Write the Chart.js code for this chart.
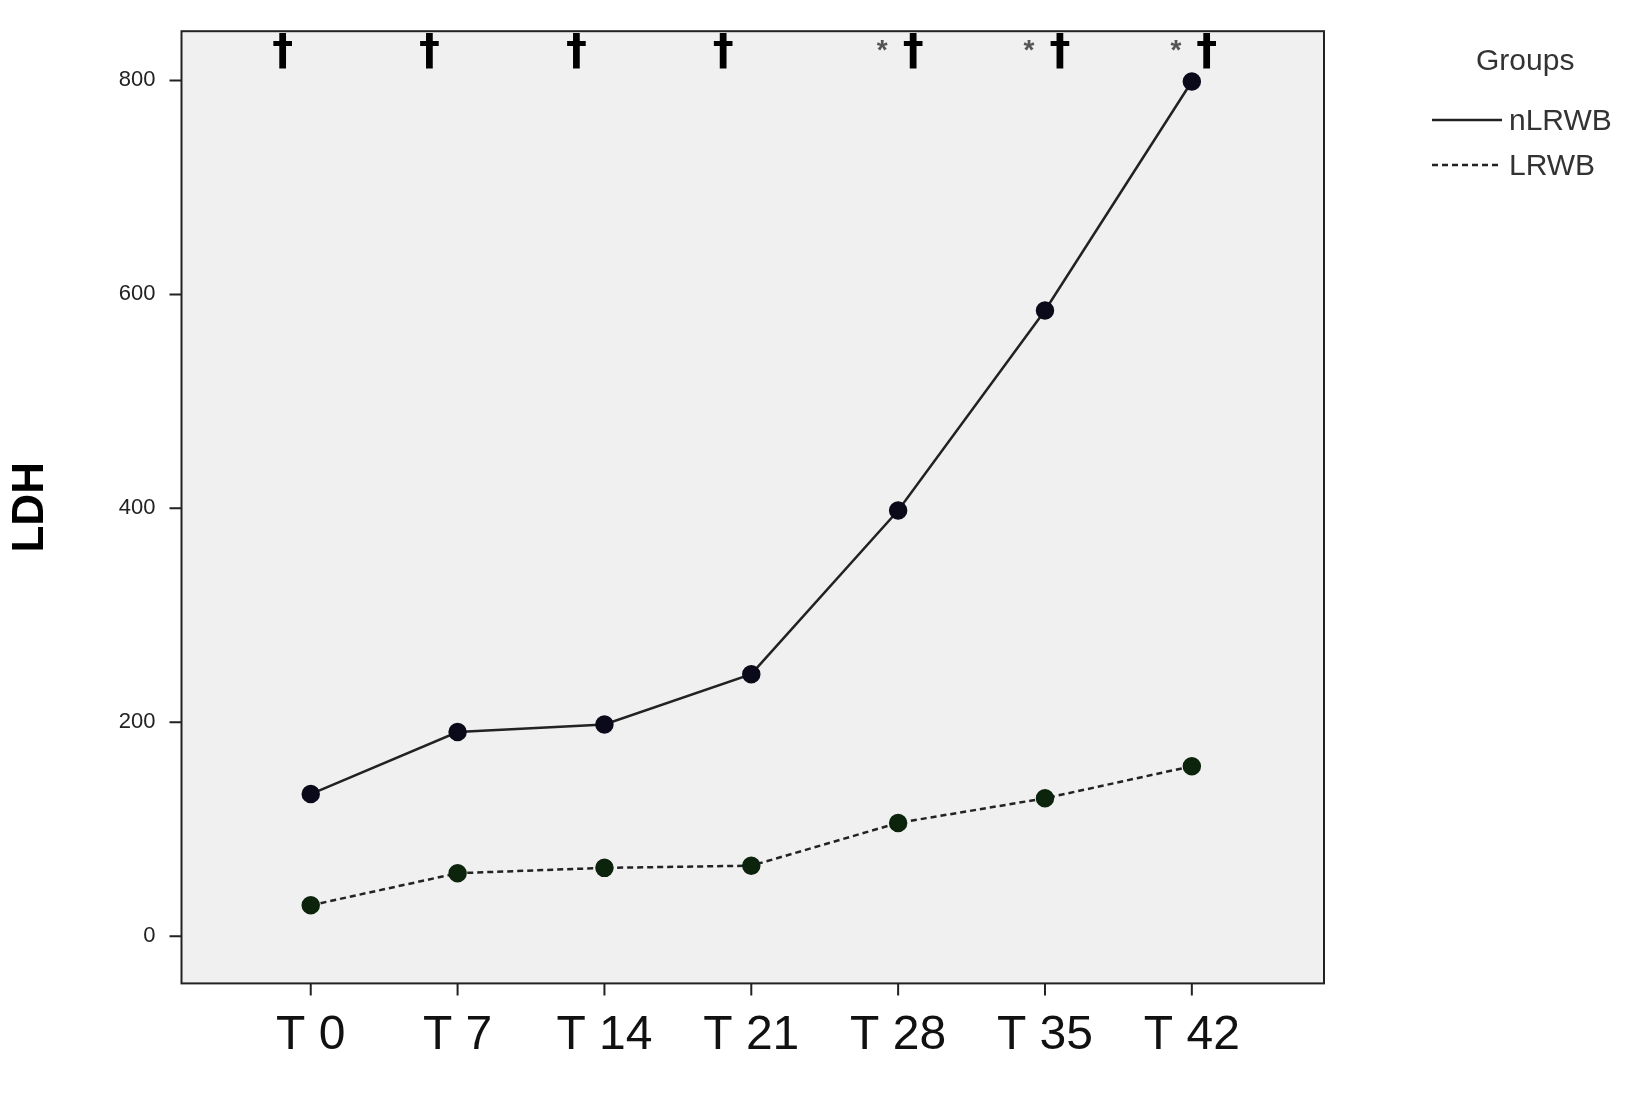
<!DOCTYPE html>
<html>
<head>
<meta charset="utf-8">
<script src="https://cdn.jsdelivr.net/npm/chart.js@4"></script>
<style>
  html, body { margin: 0; background: #fff; }
  #wrap { width: 1652px; height: 1095px; }
</style>
</head>
<body>
<div id="wrap"><canvas id="chart"></canvas></div>
<script>
const days = ['T 0', 'T 7', 'T 14', 'T 21', 'T 28', 'T 35', 'T 42'];
const nLRWB = [133, 191, 198, 245, 398, 585, 799];
const LRWB = [29, 59, 64, 66, 106, 129, 159];
const yTicks = [0, 200, 400, 600, 800];
const asterisks = [false, false, false, false, true, true, true];

const ctx = document.getElementById('chart').getContext('2d');

// grey plot background, frame and outward tick marks
const plotBg = {
  id: 'plotBg',
  beforeDraw(c) {
    const a = c.chartArea, g = c.ctx;
    g.save();
    g.fillStyle = '#f0f0f0';
    g.fillRect(a.left, a.top, a.width, a.height);
    g.restore();
  },
  afterDraw(c) {
    const a = c.chartArea, g = c.ctx;
    g.save();
    g.strokeStyle = '#222';
    g.lineWidth = 2;
    g.strokeRect(a.left, a.top, a.width, a.height);
    g.beginPath();
    days.forEach((d, i) => {
      const x = c.scales.x.getPixelForValue(i);
      g.moveTo(x, a.bottom); g.lineTo(x, a.bottom + 12);
    });
    yTicks.forEach(v => {
      const y = c.scales.y.getPixelForValue(v);
      g.moveTo(a.left, y); g.lineTo(a.left - 12, y);
    });
    g.stroke();
    g.restore();
  }
};

// significance marks along the top
const marks = {
  id: 'marks',
  afterDatasetsDraw(c) {
    const g = c.ctx, xs = c.scales.x, top = c.chartArea.top;
    g.save();
    g.textAlign = 'center';
    g.textBaseline = 'middle';
    days.forEach((d, i) => {
      const x = xs.getPixelForValue(i);
      const dx = asterisks[i] ? 15 : -28;
      g.fillStyle = '#000';
      g.font = 'bold 42px "DejaVu Sans"';
      g.fillText('\u2020', x + dx, top + 22);
      if (asterisks[i]) {
        g.fillStyle = '#555';
        g.font = 'bold 28px "Liberation Sans"';
        g.fillText('*', x - 16, top + 20);
      }
    });
    g.restore();
  }
};

// legend on the right
const groupsLegend = {
  id: 'groupsLegend',
  afterDraw(c) {
    const g = c.ctx;
    g.save();
    g.fillStyle = '#333';
    g.font = '30px "Liberation Sans"';
    g.textBaseline = 'middle';
    g.fillText('Groups', 1476, 62);
    g.strokeStyle = '#222';
    g.lineWidth = 2.5;
    g.beginPath(); g.moveTo(1432, 120); g.lineTo(1502, 120); g.stroke();
    g.setLineDash([6, 4]);
    g.beginPath(); g.moveTo(1432, 165); g.lineTo(1502, 165); g.stroke();
    g.fillText('nLRWB', 1509, 122);
    g.fillText('LRWB', 1509, 167);
    g.restore();
  }
};

new Chart(ctx, {
  type: 'line',
  data: {
    datasets: [{
      label: 'nLRWB',
      data: nLRWB.map((v, i) => ({ x: i, y: v })),
      borderColor: '#222',
      borderWidth: 2.5,
      pointRadius: 8,
      pointBackgroundColor: '#0a0a1a',
      pointBorderColor: '#0a0a1a',
      tension: 0
    }, {
      label: 'LRWB',
      data: LRWB.map((v, i) => ({ x: i, y: v })),
      borderColor: '#222',
      borderWidth: 2.5,
      borderDash: [6, 4],
      pointRadius: 8,
      pointBackgroundColor: '#0b240b',
      pointBorderColor: '#0b240b',
      tension: 0
    }]
  },
  options: {
    responsive: true,
    maintainAspectRatio: false,
    animation: false,
    layout: { padding: { top: 23, right: 328, bottom: 14, left: 0 } },
    plugins: { legend: { display: false }, tooltip: { enabled: false } },
    scales: {
      x: {
        type: 'linear', min: -0.88, max: 6.9,
        afterBuildTicks: s => { s.ticks = days.map((d, i) => ({ value: i })); },
        ticks: { callback: v => days[v], color: '#111', font: { size: 48, family: 'Liberation Sans' }, padding: 16 },
        grid: { display: false },
        border: { display: false }
      },
      y: {
        min: -44, max: 846,
        afterBuildTicks: s => { s.ticks = yTicks.map(v => ({ value: v })); },
        ticks: { color: '#222', font: { size: 22, family: 'Liberation Sans' }, padding: 18 },
        grid: { display: false },
        border: { display: false },
        title: { display: true, text: 'LDH', color: '#000', font: { size: 44, weight: 'bold', family: 'Liberation Sans' }, padding: { bottom: 44 } }
      }
    }
  },
  plugins: [plotBg, marks, groupsLegend]
});
</script>
</body>
</html>
